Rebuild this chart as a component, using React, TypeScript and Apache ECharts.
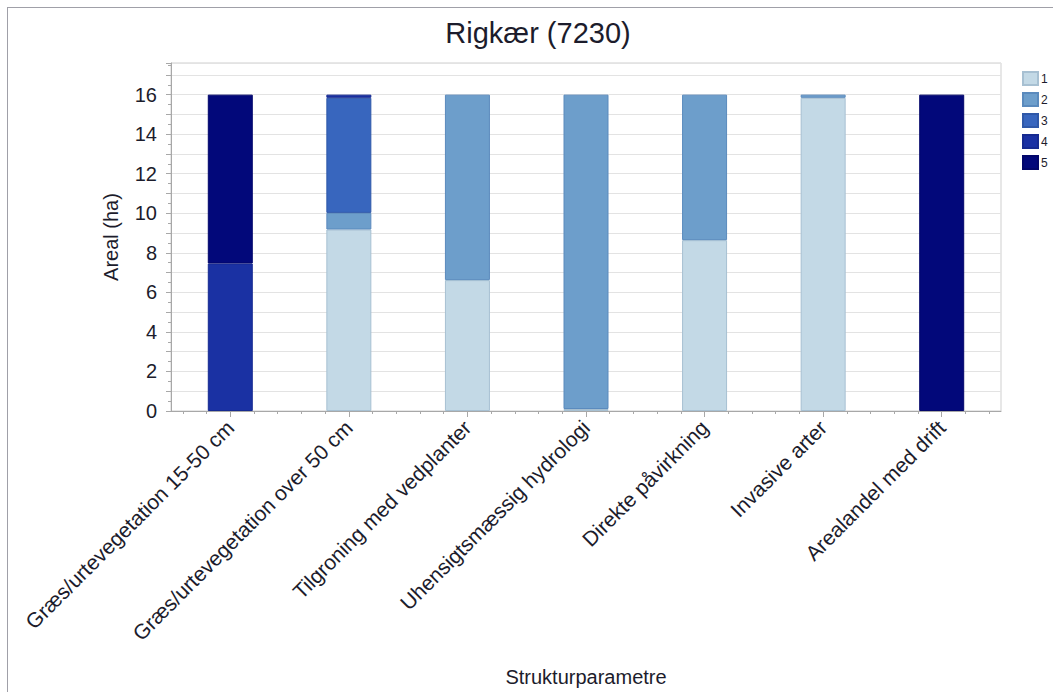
import React, { useEffect, useRef } from "react";
import * as echarts from "echarts";

const categories = [
  "Græs/urtevegetation 15-50 cm",
  "Græs/urtevegetation over 50 cm",
  "Tilgroning med vedplanter",
  "Uhensigtsmæssig hydrologi",
  "Direkte påvirkning",
  "Invasive arter",
  "Arealandel med drift",
];
const seriesNames = ["1", "2", "3", "4", "5"];
const s1 = [0, 9.18, 6.62, 0.1, 8.64, 15.84, 0];
const s2 = [0, 0.84, 9.38, 15.9, 7.36, 0.16, 0];
const s3 = [0, 5.82, 0, 0, 0, 0, 0];
const s4 = [7.46, 0.16, 0, 0, 0, 0, 0];
const s5 = [8.54, 0, 0, 0, 0, 0, 16];
const seriesValues = [s1, s2, s3, s4, s5];
const colors = ["#c3d9e6", "#6d9ecb", "#3866be", "#1a31a3", "#02087a"];
const borders = ["#a7c0d2", "#5a8abd", "#2f58a8", "#162a90", "#02066a"];

export default function App() {
  const ref = useRef<HTMLDivElement>(null);
  useEffect(() => {
    if (!ref.current) return;
    const chart = echarts.init(ref.current, null, { renderer: "svg" });
    const font = "Liberation Sans, Arial, sans-serif";
    const textColor = "#1c1c2c";
    const n = categories.length;
    const minorX: number[] = [];
    for (let i = 0; i < n * 5; i++) minorX.push((i + 0.5) / 5);
    chart.setOption({
      animation: false,
      backgroundColor: "#ffffff",
      title: {
        text: "Rigkær (7230)",
        left: 533,
        top: 13,
        textAlign: "center",
        textStyle: { fontFamily: font, fontSize: 29, fontWeight: "normal", color: textColor },
      },
      legend: {
        orient: "vertical",
        left: 1017,
        top: 66,
        itemWidth: 15,
        itemHeight: 13,
        itemGap: 6,
        icon: "rect",
        data: seriesNames,
        textStyle: { fontFamily: font, fontSize: 12, color: textColor, padding: [0, 0, 0, -2] },
      },
      grid: {
        left: 171,
        right: 52,
        top: 63,
        bottom: 281,
        outerBoundsMode: "none",
        containLabel: false,
        show: true,
        borderColor: "#cfcfcf",
        borderWidth: 1,
        backgroundColor: "transparent",
      },
      xAxis: [
        {
          type: "category",
          data: categories,
          name: "Strukturparametre",
          nameLocation: "middle",
          nameGap: 256,
          nameTextStyle: { fontFamily: font, fontSize: 20, color: textColor },
          axisLine: { show: true, lineStyle: { color: "#a8a8a8" } },
          axisTick: { show: true, alignWithLabel: true, length: 6, lineStyle: { color: "#a8a8a8" } },
          axisLabel: {
            rotate: 45,
            margin: 13,
            fontFamily: font,
            fontSize: 21,
            color: textColor,
            interval: 0,
          },
          splitLine: { show: false },
        },
        {
          type: "value",
          min: 0,
          max: n,
          position: "bottom",
          axisLine: { show: false },
          axisLabel: { show: false },
          splitLine: { show: false },
          axisTick: {
            show: true,
            length: 3,
            customValues: minorX,
            lineStyle: { color: "#a8a8a8" },
          },
        },
      ],
      yAxis: {
        type: "value",
        min: 0,
        max: 17.6,
        interval: 1,
        name: "Areal (ha)",
        nameLocation: "middle",
        nameGap: 50,
        nameTextStyle: { fontFamily: font, fontSize: 20, color: textColor },
        axisLine: { show: true, lineStyle: { color: "#a8a8a8" } },
        axisTick: { show: true, length: 5, lineStyle: { color: "#a8a8a8" } },
        minorTick: { show: true, splitNumber: 2, length: 3, lineStyle: { color: "#a8a8a8" } },
        axisLabel: {
          fontFamily: font,
          fontSize: 20,
          color: textColor,
          margin: 14,
          formatter: (v: number) => (Math.abs(v % 2) < 1e-9 && v <= 16 ? String(v) : ""),
        },
        splitLine: { show: true, lineStyle: { color: "#e3e3e3", width: 1 } },
      },
      series: seriesNames.map((name, i) => ({
        name,
        type: "bar",
        stack: "total",
        barWidth: 45,
        xAxisIndex: 0,
        data: seriesValues[i].map((v) => (v === 0 ? null : v)),
        itemStyle: { color: colors[i], borderColor: borders[i], borderWidth: 1 },
      })),
      graphic: [
        {
          type: "line",
          shape: { x1: 7, y1: 7.5, x2: 1053, y2: 7.5 },
          style: { stroke: "#a0a0a8", lineWidth: 1 },
        },
        {
          type: "line",
          shape: { x1: 7.5, y1: 7, x2: 7.5, y2: 692 },
          style: { stroke: "#a0a0a8", lineWidth: 1 },
        },
      ],
    });
    return () => chart.dispose();
  }, []);
  return (
    <div
      ref={ref}
      style={{ position: "absolute", left: 0, top: 0, width: 1053, height: 692 }}
    />
  );
}
